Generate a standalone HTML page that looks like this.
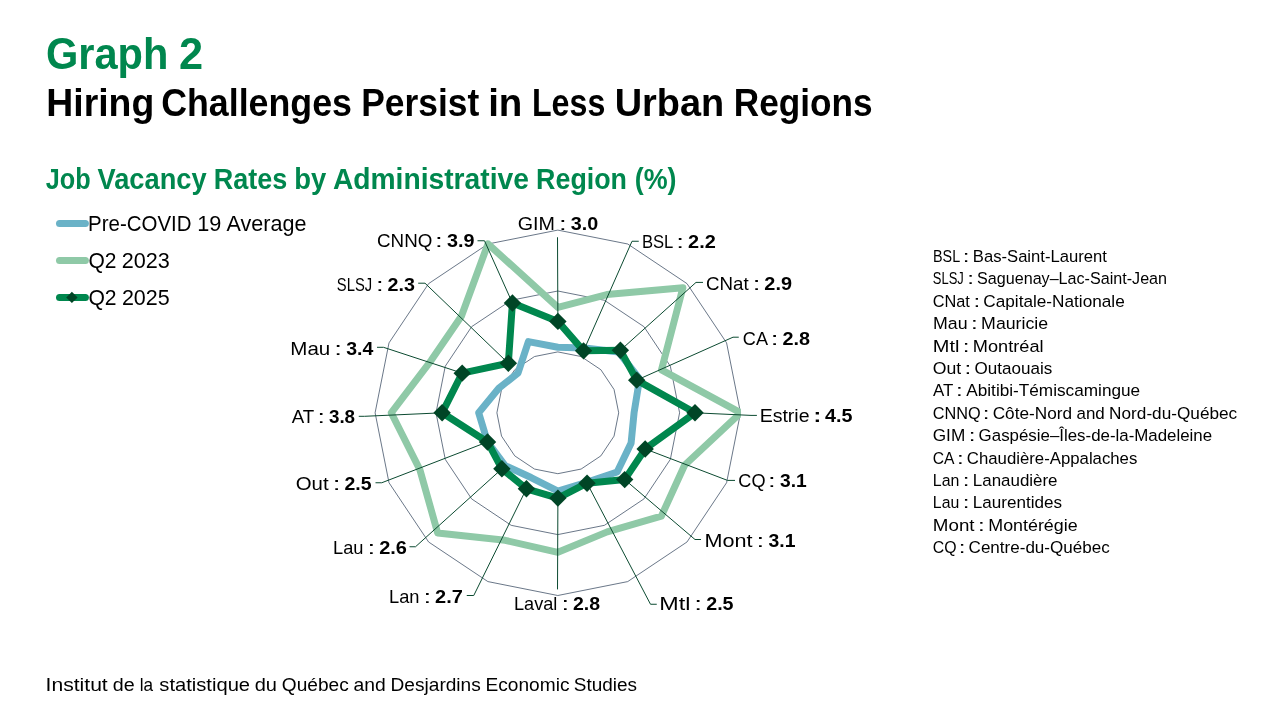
<!DOCTYPE html>
<html lang="en"><head><meta charset="utf-8"><title>Graph 2 – Hiring Challenges Persist in Less Urban Regions</title>
<style>html,body{margin:0;padding:0;background:#fff}body{width:1280px;height:720px;overflow:hidden}svg{display:block}text{font-family:"Liberation Sans",sans-serif;white-space:pre}</style></head><body>
<svg width="1280" height="720" viewBox="0 0 1280 720">
<rect width="1280" height="720" fill="#fff"/>
<g fill="none" stroke="#44546a" stroke-width="0.8">
<polygon points="557.80,351.90 581.11,356.54 600.86,369.74 614.06,389.49 618.70,412.80 614.06,436.11 600.86,455.86 581.11,469.06 557.80,473.70 534.49,469.06 514.74,455.86 501.54,436.11 496.90,412.80 501.54,389.49 514.74,369.74 534.49,356.54"/>
<polygon points="557.80,291.00 604.41,300.27 643.93,326.67 670.33,366.19 679.60,412.80 670.33,459.41 643.93,498.93 604.41,525.33 557.80,534.60 511.19,525.33 471.67,498.93 445.27,459.41 436.00,412.80 445.27,366.19 471.67,326.67 511.19,300.27"/>
<polygon points="557.80,230.10 627.72,244.01 686.99,283.61 726.59,342.88 740.50,412.80 726.59,482.72 686.99,541.99 627.72,581.59 557.80,595.50 487.88,581.59 428.61,541.99 389.01,482.72 375.10,412.80 389.01,342.88 428.61,283.61 487.88,244.01"/>
</g>
<clipPath id="plot"><rect x="374.4" y="229.6" width="366.5" height="366.4"/></clipPath>
<g fill="none" stroke-linejoin="round" stroke-linecap="round" stroke-width="7" clip-path="url(#plot)">
<polygon stroke="#6ab2c7" points="557.90,347.29 584.72,348.05 618.66,352.04 639.54,378.98 634.07,412.80 631.09,443.12 617.15,472.05 586.70,482.33 557.90,491.11 531.08,477.55 505.11,465.59 487.52,441.95 478.68,412.80 498.78,388.31 518.04,372.94 528.40,341.58"/>
<polygon stroke="#8fc9a7" points="557.90,307.37 606.87,294.57 682.86,287.84 661.49,369.89 740.72,412.80 684.58,465.27 661.32,516.22 607.22,531.88 557.90,552.35 505.08,540.32 437.68,533.02 419.96,469.94 391.23,412.80 431.22,360.33 461.38,316.28 487.94,243.90"/>
<polygon stroke="#00874e" points="557.90,321.39 583.55,350.87 620.38,350.32 636.72,380.15 695.01,412.80 645.17,448.95 624.69,479.59 587.05,483.18 557.90,498.12 526.42,488.81 501.88,468.82 487.52,441.95 442.11,412.80 462.19,373.15 508.35,363.25 512.42,303.01"/>
</g>
<g fill="none" stroke="#0b4a30" stroke-width="1">
<polyline points="557.50,237.25 557.90,321.39"/>
<polyline points="638.75,241.25 632.00,241.25 583.55,350.87"/>
<polyline points="703.00,282.40 696.00,282.40 620.38,350.32"/>
<polyline points="738.75,337.20 733.00,337.20 636.72,380.15"/>
<polyline points="756.90,415.40 751.00,415.40 695.01,412.80"/>
<polyline points="735.00,480.40 727.50,480.40 645.17,448.95"/>
<polyline points="701.00,539.50 695.00,539.50 624.69,479.59"/>
<polyline points="656.75,604.25 650.50,604.25 587.05,483.18"/>
<polyline points="557.50,589.40 557.90,498.12"/>
<polyline points="466.75,595.50 473.75,595.50 526.42,488.81"/>
<polyline points="409.50,546.75 415.50,546.75 501.88,468.82"/>
<polyline points="375.50,482.75 381.75,482.75 487.52,441.95"/>
<polyline points="358.75,416.30 364.50,416.30 442.11,412.80"/>
<polyline points="377.00,347.30 383.50,347.30 462.19,373.15"/>
<polyline points="418.20,283.20 425.00,283.20 508.35,363.25"/>
<polyline points="477.50,240.75 484.50,240.75 512.42,303.01"/>
</g>
<g fill="#004526">
<path d="M557.90 312.69L566.60 321.39L557.90 330.09L549.20 321.39Z"/>
<path d="M583.55 342.17L592.25 350.87L583.55 359.57L574.85 350.87Z"/>
<path d="M620.38 341.62L629.08 350.32L620.38 359.02L611.68 350.32Z"/>
<path d="M636.72 371.45L645.42 380.15L636.72 388.85L628.02 380.15Z"/>
<path d="M695.01 404.10L703.72 412.80L695.01 421.50L686.31 412.80Z"/>
<path d="M645.17 440.25L653.87 448.95L645.17 457.65L636.47 448.95Z"/>
<path d="M624.69 470.89L633.39 479.59L624.69 488.29L615.99 479.59Z"/>
<path d="M587.05 474.48L595.75 483.18L587.05 491.88L578.35 483.18Z"/>
<path d="M557.90 489.42L566.60 498.12L557.90 506.82L549.20 498.12Z"/>
<path d="M526.42 480.11L535.12 488.81L526.42 497.51L517.72 488.81Z"/>
<path d="M501.88 460.12L510.58 468.82L501.88 477.52L493.18 468.82Z"/>
<path d="M487.52 433.25L496.22 441.95L487.52 450.65L478.82 441.95Z"/>
<path d="M442.11 404.10L450.81 412.80L442.11 421.50L433.41 412.80Z"/>
<path d="M462.19 364.45L470.89 373.15L462.19 381.85L453.49 373.15Z"/>
<path d="M508.35 354.55L517.05 363.25L508.35 371.95L499.65 363.25Z"/>
<path d="M512.42 294.31L521.12 303.01L512.42 311.71L503.72 303.01Z"/>
</g>
<g fill="none" stroke-linecap="round" stroke-width="7">
<path stroke="#6ab2c7" d="M59.5 223.5H85.4"/>
<path stroke="#8fc9a7" d="M59.5 260.6H85.4"/>
<path stroke="#00874e" d="M59.5 297.5H85.4"/>
</g>
<path fill="#004526" d="M71.90 291.70L77.60 297.40L71.90 303.10L66.20 297.40Z"/>
<text y="68.60" font-size="44.16" fill="#00874e">
<tspan font-weight="bold" x="45.90" textLength="122.39" lengthAdjust="spacingAndGlyphs">Graph</tspan> <tspan font-weight="bold" x="179.03" textLength="24.11" lengthAdjust="spacingAndGlyphs">2</tspan></text>
<text y="116.40" font-size="39.25" fill="#000">
<tspan font-weight="bold" x="46.30" textLength="107.92" lengthAdjust="spacingAndGlyphs">Hiring</tspan> <tspan font-weight="bold" x="161.19" textLength="190.79" lengthAdjust="spacingAndGlyphs">Challenges</tspan> <tspan font-weight="bold" x="361.22" textLength="117.96" lengthAdjust="spacingAndGlyphs">Persist</tspan> <tspan font-weight="bold" x="488.15" textLength="34.22" lengthAdjust="spacingAndGlyphs">in</tspan> <tspan font-weight="bold" x="531.90" textLength="73.41" lengthAdjust="spacingAndGlyphs">Less</tspan> <tspan font-weight="bold" x="614.72" textLength="109.50" lengthAdjust="spacingAndGlyphs">Urban</tspan> <tspan font-weight="bold" x="733.79" textLength="138.75" lengthAdjust="spacingAndGlyphs">Regions</tspan></text>
<text y="188.60" font-size="29.44" fill="#00874e">
<tspan font-weight="bold" x="45.72" textLength="44.88" lengthAdjust="spacingAndGlyphs">Job</tspan> <tspan font-weight="bold" x="97.56" textLength="109.03" lengthAdjust="spacingAndGlyphs">Vacancy</tspan> <tspan font-weight="bold" x="213.81" textLength="73.55" lengthAdjust="spacingAndGlyphs">Rates</tspan> <tspan font-weight="bold" x="294.36" textLength="31.98" lengthAdjust="spacingAndGlyphs">by</tspan> <tspan font-weight="bold" x="332.89" textLength="196.01" lengthAdjust="spacingAndGlyphs">Administrative</tspan> <tspan font-weight="bold" x="536.12" textLength="90.87" lengthAdjust="spacingAndGlyphs">Region</tspan> <tspan font-weight="bold" x="634.77" textLength="41.76" lengthAdjust="spacingAndGlyphs">(%)</tspan></text>
<text y="230.80" font-size="21.24" fill="#000">
<tspan x="88.12" textLength="103.39" lengthAdjust="spacingAndGlyphs">Pre-COVID</tspan> <tspan x="197.18" textLength="24.13" lengthAdjust="spacingAndGlyphs">19</tspan> <tspan x="226.59" textLength="79.87" lengthAdjust="spacingAndGlyphs">Average</tspan></text>
<text y="267.80" font-size="21.24" fill="#000">
<tspan x="88.41" textLength="28.01" lengthAdjust="spacingAndGlyphs">Q2</tspan> <tspan x="121.69" textLength="48.06" lengthAdjust="spacingAndGlyphs">2023</tspan></text>
<text y="304.70" font-size="21.24" fill="#000">
<tspan x="88.40" textLength="28.19" lengthAdjust="spacingAndGlyphs">Q2</tspan> <tspan x="121.91" textLength="47.79" lengthAdjust="spacingAndGlyphs">2025</tspan></text>
<text y="690.60" font-size="18.88" fill="#000">
<tspan x="45.55" textLength="62.20" lengthAdjust="spacingAndGlyphs">Institut</tspan> <tspan x="112.71" textLength="21.90" lengthAdjust="spacingAndGlyphs">de</tspan> <tspan x="139.67" textLength="13.38" lengthAdjust="spacingAndGlyphs">la</tspan> <tspan x="159.32" textLength="90.74" lengthAdjust="spacingAndGlyphs">statistique</tspan> <tspan x="254.67" textLength="22.27" lengthAdjust="spacingAndGlyphs">du</tspan> <tspan x="281.82" textLength="66.87" lengthAdjust="spacingAndGlyphs">Québec</tspan> <tspan x="353.45" textLength="32.20" lengthAdjust="spacingAndGlyphs">and</tspan> <tspan x="390.57" textLength="90.22" lengthAdjust="spacingAndGlyphs">Desjardins</tspan> <tspan x="485.55" textLength="83.90" lengthAdjust="spacingAndGlyphs">Economic</tspan> <tspan x="573.87" textLength="63.21" lengthAdjust="spacingAndGlyphs">Studies</tspan></text>
<text y="261.90" font-size="16.52" fill="#000">
<tspan x="933.03" textLength="26.61" lengthAdjust="spacingAndGlyphs">BSL</tspan> <tspan x="962.80" textLength="6.72" lengthAdjust="spacingAndGlyphs">:</tspan> <tspan x="972.86" textLength="133.99" lengthAdjust="spacingAndGlyphs">Bas-Saint-Laurent</tspan></text>
<text y="284.31" font-size="16.52" fill="#000">
<tspan x="932.81" textLength="30.95" lengthAdjust="spacingAndGlyphs">SLSJ</tspan> <tspan x="967.17" textLength="6.72" lengthAdjust="spacingAndGlyphs">:</tspan> <tspan x="977.06" textLength="190.00" lengthAdjust="spacingAndGlyphs">Saguenay–Lac-Saint-Jean</tspan></text>
<text y="306.72" font-size="16.52" fill="#000">
<tspan x="932.68" textLength="37.21" lengthAdjust="spacingAndGlyphs">CNat</tspan> <tspan x="973.41" textLength="6.72" lengthAdjust="spacingAndGlyphs">:</tspan> <tspan x="983.27" textLength="141.51" lengthAdjust="spacingAndGlyphs">Capitale-Nationale</tspan></text>
<text y="329.13" font-size="16.52" fill="#000">
<tspan x="932.97" textLength="34.55" lengthAdjust="spacingAndGlyphs">Mau</tspan> <tspan x="970.93" textLength="6.72" lengthAdjust="spacingAndGlyphs">:</tspan> <tspan x="981.11" textLength="67.01" lengthAdjust="spacingAndGlyphs">Mauricie</tspan></text>
<text y="351.54" font-size="16.52" fill="#000">
<tspan x="932.78" textLength="26.61" lengthAdjust="spacingAndGlyphs">Mtl</tspan> <tspan x="962.71" textLength="6.72" lengthAdjust="spacingAndGlyphs">:</tspan> <tspan x="972.86" textLength="70.73" lengthAdjust="spacingAndGlyphs">Montréal</tspan></text>
<text y="373.95" font-size="16.52" fill="#000">
<tspan x="932.72" textLength="28.40" lengthAdjust="spacingAndGlyphs">Out</tspan> <tspan x="964.64" textLength="6.72" lengthAdjust="spacingAndGlyphs">:</tspan> <tspan x="974.60" textLength="77.68" lengthAdjust="spacingAndGlyphs">Outaouais</tspan></text>
<text y="396.36" font-size="16.52" fill="#000">
<tspan x="932.94" textLength="20.03" lengthAdjust="spacingAndGlyphs">AT</tspan> <tspan x="956.12" textLength="6.72" lengthAdjust="spacingAndGlyphs">:</tspan> <tspan x="966.27" textLength="173.89" lengthAdjust="spacingAndGlyphs">Abitibi-Témiscamingue</tspan></text>
<text y="418.77" font-size="16.52" fill="#000">
<tspan x="932.68" textLength="47.91" lengthAdjust="spacingAndGlyphs">CNNQ</tspan> <tspan x="982.83" textLength="6.72" lengthAdjust="spacingAndGlyphs">:</tspan> <tspan x="992.69" textLength="79.32" lengthAdjust="spacingAndGlyphs">Côte-Nord</tspan> <tspan x="1076.48" textLength="28.29" lengthAdjust="spacingAndGlyphs">and</tspan> <tspan x="1109.14" textLength="128.05" lengthAdjust="spacingAndGlyphs">Nord-du-Québec</tspan></text>
<text y="441.18" font-size="16.52" fill="#000">
<tspan x="932.74" textLength="32.49" lengthAdjust="spacingAndGlyphs">GIM</tspan> <tspan x="968.66" textLength="6.72" lengthAdjust="spacingAndGlyphs">:</tspan> <tspan x="978.63" textLength="233.50" lengthAdjust="spacingAndGlyphs">Gaspésie–Îles-de-la-Madeleine</tspan></text>
<text y="463.59" font-size="16.52" fill="#000">
<tspan x="932.72" textLength="20.91" lengthAdjust="spacingAndGlyphs">CA</tspan> <tspan x="956.97" textLength="6.72" lengthAdjust="spacingAndGlyphs">:</tspan> <tspan x="966.85" textLength="170.49" lengthAdjust="spacingAndGlyphs">Chaudière-Appalaches</tspan></text>
<text y="486.00" font-size="16.52" fill="#000">
<tspan x="932.85" textLength="26.54" lengthAdjust="spacingAndGlyphs">Lan</tspan> <tspan x="962.81" textLength="6.72" lengthAdjust="spacingAndGlyphs">:</tspan> <tspan x="972.80" textLength="84.73" lengthAdjust="spacingAndGlyphs">Lanaudière</tspan></text>
<text y="508.41" font-size="16.52" fill="#000">
<tspan x="932.86" textLength="26.41" lengthAdjust="spacingAndGlyphs">Lau</tspan> <tspan x="962.81" textLength="6.72" lengthAdjust="spacingAndGlyphs">:</tspan> <tspan x="972.79" textLength="89.27" lengthAdjust="spacingAndGlyphs">Laurentides</tspan></text>
<text y="530.82" font-size="16.52" fill="#000">
<tspan x="932.88" textLength="41.69" lengthAdjust="spacingAndGlyphs">Mont</tspan> <tspan x="978.08" textLength="6.72" lengthAdjust="spacingAndGlyphs">:</tspan> <tspan x="988.26" textLength="89.37" lengthAdjust="spacingAndGlyphs">Montérégie</tspan></text>
<text y="553.23" font-size="16.52" fill="#000">
<tspan x="932.71" textLength="23.77" lengthAdjust="spacingAndGlyphs">CQ</tspan> <tspan x="958.73" textLength="6.72" lengthAdjust="spacingAndGlyphs">:</tspan> <tspan x="968.59" textLength="141.13" lengthAdjust="spacingAndGlyphs">Centre-du-Québec</tspan></text>
<text y="229.80" font-size="18.88" fill="#000">
<tspan x="517.76" textLength="37.25" lengthAdjust="spacingAndGlyphs">GIM</tspan> <tspan x="558.93" textLength="7.70" lengthAdjust="spacingAndGlyphs">:</tspan> <tspan font-weight="bold" x="570.87" textLength="27.44" lengthAdjust="spacingAndGlyphs">3.0</tspan></text>
<text y="248.30" font-size="18.88" fill="#000">
<tspan x="641.88" textLength="30.82" lengthAdjust="spacingAndGlyphs">BSL</tspan> <tspan x="676.35" textLength="7.78" lengthAdjust="spacingAndGlyphs">:</tspan> <tspan font-weight="bold" x="688.10" textLength="27.70" lengthAdjust="spacingAndGlyphs">2.2</tspan></text>
<text y="290.30" font-size="18.88" fill="#000">
<tspan x="706.05" textLength="42.63" lengthAdjust="spacingAndGlyphs">CNat</tspan> <tspan x="752.72" textLength="7.70" lengthAdjust="spacingAndGlyphs">:</tspan> <tspan font-weight="bold" x="764.35" textLength="27.64" lengthAdjust="spacingAndGlyphs">2.9</tspan></text>
<text y="344.80" font-size="18.88" fill="#000">
<tspan x="742.83" textLength="24.15" lengthAdjust="spacingAndGlyphs">CA</tspan> <tspan x="770.85" textLength="7.76" lengthAdjust="spacingAndGlyphs">:</tspan> <tspan font-weight="bold" x="782.57" textLength="27.54" lengthAdjust="spacingAndGlyphs">2.8</tspan></text>
<text y="422.05" font-size="18.88" fill="#000">
<tspan x="759.65" textLength="49.90" lengthAdjust="spacingAndGlyphs">Estrie</tspan> <tspan font-weight="bold" x="813.55" textLength="7.67" lengthAdjust="spacingAndGlyphs">:</tspan> <tspan font-weight="bold" x="825.14" textLength="27.41" lengthAdjust="spacingAndGlyphs">4.5</tspan></text>
<text y="486.55" font-size="18.88" fill="#000">
<tspan x="738.33" textLength="27.20" lengthAdjust="spacingAndGlyphs">CQ</tspan> <tspan x="768.11" textLength="7.69" lengthAdjust="spacingAndGlyphs">:</tspan> <tspan font-weight="bold" x="780.04" textLength="26.74" lengthAdjust="spacingAndGlyphs">3.1</tspan></text>
<text y="546.55" font-size="18.88" fill="#000">
<tspan x="704.48" textLength="48.06" lengthAdjust="spacingAndGlyphs">Mont</tspan> <tspan x="756.58" textLength="7.74" lengthAdjust="spacingAndGlyphs">:</tspan> <tspan font-weight="bold" x="768.60" textLength="26.94" lengthAdjust="spacingAndGlyphs">3.1</tspan></text>
<text y="610.30" font-size="18.88" fill="#000">
<tspan x="659.33" textLength="31.11" lengthAdjust="spacingAndGlyphs">Mtl</tspan> <tspan x="694.33" textLength="7.85" lengthAdjust="spacingAndGlyphs">:</tspan> <tspan font-weight="bold" x="706.21" textLength="27.34" lengthAdjust="spacingAndGlyphs">2.5</tspan></text>
<text y="610.30" font-size="18.88" fill="#000">
<tspan x="514.01" textLength="43.41" lengthAdjust="spacingAndGlyphs">Laval</tspan> <tspan x="561.49" textLength="7.63" lengthAdjust="spacingAndGlyphs">:</tspan> <tspan font-weight="bold" x="573.02" textLength="27.08" lengthAdjust="spacingAndGlyphs">2.8</tspan></text>
<text y="602.80" font-size="18.88" fill="#000">
<tspan x="389.00" textLength="30.51" lengthAdjust="spacingAndGlyphs">Lan</tspan> <tspan x="423.45" textLength="7.72" lengthAdjust="spacingAndGlyphs">:</tspan> <tspan font-weight="bold" x="435.11" textLength="27.77" lengthAdjust="spacingAndGlyphs">2.7</tspan></text>
<text y="554.05" font-size="18.88" fill="#000">
<tspan x="333.00" textLength="30.44" lengthAdjust="spacingAndGlyphs">Lau</tspan> <tspan x="367.52" textLength="7.74" lengthAdjust="spacingAndGlyphs">:</tspan> <tspan font-weight="bold" x="379.21" textLength="27.77" lengthAdjust="spacingAndGlyphs">2.6</tspan></text>
<text y="489.80" font-size="18.88" fill="#000">
<tspan x="295.78" textLength="32.87" lengthAdjust="spacingAndGlyphs">Out</tspan> <tspan x="332.72" textLength="7.77" lengthAdjust="spacingAndGlyphs">:</tspan> <tspan font-weight="bold" x="344.48" textLength="27.06" lengthAdjust="spacingAndGlyphs">2.5</tspan></text>
<text y="422.80" font-size="18.88" fill="#000">
<tspan x="291.71" textLength="22.20" lengthAdjust="spacingAndGlyphs">AT</tspan> <tspan x="317.40" textLength="7.45" lengthAdjust="spacingAndGlyphs">:</tspan> <tspan font-weight="bold" x="328.95" textLength="26.13" lengthAdjust="spacingAndGlyphs">3.8</tspan></text>
<text y="354.80" font-size="18.88" fill="#000">
<tspan x="290.31" textLength="39.96" lengthAdjust="spacingAndGlyphs">Mau</tspan> <tspan x="334.22" textLength="7.77" lengthAdjust="spacingAndGlyphs">:</tspan> <tspan font-weight="bold" x="346.28" textLength="27.08" lengthAdjust="spacingAndGlyphs">3.4</tspan></text>
<text y="291.05" font-size="18.88" fill="#000">
<tspan x="336.83" textLength="35.31" lengthAdjust="spacingAndGlyphs">SLSJ</tspan> <tspan x="376.03" textLength="7.66" lengthAdjust="spacingAndGlyphs">:</tspan> <tspan font-weight="bold" x="387.60" textLength="27.36" lengthAdjust="spacingAndGlyphs">2.3</tspan></text>
<text y="246.80" font-size="18.88" fill="#000">
<tspan x="377.05" textLength="55.31" lengthAdjust="spacingAndGlyphs">CNNQ</tspan> <tspan x="434.93" textLength="7.75" lengthAdjust="spacingAndGlyphs">:</tspan> <tspan font-weight="bold" x="446.96" textLength="27.53" lengthAdjust="spacingAndGlyphs">3.9</tspan></text>
</svg></body></html>
